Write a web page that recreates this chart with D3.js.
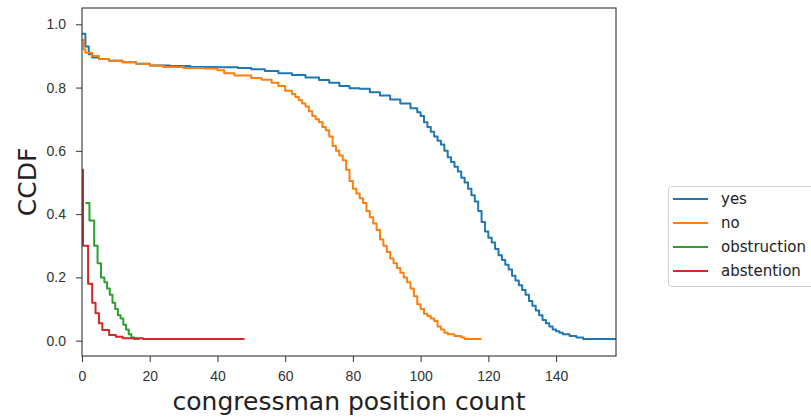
<!DOCTYPE html>
<html>
<head>
<meta charset="utf-8">
<script src="https://cdn.jsdelivr.net/npm/d3@7"></script>
<style>
  body { margin: 0; background: #fff; }
  svg { display: block; font-family: "DejaVu Sans", sans-serif; }
</style>
</head>
<body>
<div id="chart"></div>
<script>
// --------------------------------------
// Series (x = position count, y = CCDF)
const seriesNames = ["yes", "no", "obstruction", "abstention"];
const seriesColors = ["#1f77b4", "#ff7f0e", "#2ca02c", "#d62728"];

const yesX = [0, 1, 2, 3, 5, 8, 12, 16, 20, 26, 32, 40, 46, 50, 54, 58, 62, 66, 70, 73, 76, 79, 82, 85, 88, 91, 94, 97, 99,
  100, 101, 102, 103, 104, 105, 106, 107, 108, 109, 110, 111, 112, 113, 114, 115, 116, 117, 118, 119, 120,
  121, 122, 123, 124, 125, 126, 127, 128, 129, 130, 131, 132, 133, 134, 135, 136, 137, 138, 139, 140,
  141, 142, 144, 146, 148, 158];
const yesY = [0.97, 0.93, 0.905, 0.895, 0.89, 0.885, 0.88, 0.875, 0.87, 0.868, 0.865, 0.864, 0.862, 0.858, 0.852, 0.845, 0.84, 0.832, 0.824, 0.815, 0.805, 0.798, 0.796, 0.785, 0.775, 0.762, 0.75, 0.735, 0.722,
  0.71, 0.69, 0.675, 0.66, 0.645, 0.632, 0.62, 0.6, 0.58, 0.565, 0.55, 0.535, 0.515, 0.5, 0.48, 0.46, 0.44, 0.41, 0.375, 0.345, 0.325,
  0.31, 0.29, 0.27, 0.255, 0.24, 0.225, 0.205, 0.19, 0.175, 0.16, 0.145, 0.125, 0.11, 0.095, 0.08, 0.065, 0.055, 0.045, 0.035, 0.03,
  0.025, 0.02, 0.015, 0.01, 0.005, 0.003];

const noX = [0, 0.5, 1, 3, 5, 8, 12, 16, 20, 24, 30, 36, 40, 42, 45, 50, 53, 56, 58, 60, 62, 63, 64, 65, 66, 67, 68, 69, 70,
  71, 72, 73, 74, 75, 76, 77, 78, 79, 80, 81, 82, 83, 84, 85, 86, 87, 88, 89, 90, 91, 92, 93, 94, 95, 96, 97, 98, 99, 100,
  101, 102, 103, 104, 105, 106, 107, 108, 110, 112, 113, 118];
const noY = [0.95, 0.92, 0.91, 0.9, 0.89, 0.885, 0.88, 0.875, 0.87, 0.865, 0.862, 0.86, 0.855, 0.845, 0.838, 0.83, 0.825, 0.815, 0.805, 0.79, 0.78, 0.77, 0.76, 0.75, 0.74, 0.725, 0.71, 0.7, 0.69,
  0.675, 0.665, 0.645, 0.615, 0.6, 0.585, 0.57, 0.54, 0.505, 0.48, 0.465, 0.45, 0.435, 0.41, 0.39, 0.37, 0.35, 0.32, 0.3, 0.28, 0.26, 0.245, 0.23, 0.215, 0.2, 0.185, 0.165, 0.14, 0.115, 0.1,
  0.085, 0.078, 0.07, 0.062, 0.045, 0.035, 0.025, 0.02, 0.015, 0.01, 0.005, 0.005];

const obstructionX = [1, 2.2, 3.6, 4.6, 5.6, 6.6, 7.4, 8.2, 9, 9.8, 10.6, 11.4, 12.2, 13, 13.8, 14.6, 15.4, 17];
const obstructionY = [0.435, 0.38, 0.3, 0.245, 0.2, 0.185, 0.165, 0.145, 0.12, 0.1, 0.08, 0.07, 0.05, 0.035, 0.02, 0.01, 0.005, 0.005];

const abstentionX = [0, 0.3, 1.8, 3, 4, 5, 6, 8, 10, 12, 18, 48];
const abstentionY = [0.54, 0.3, 0.18, 0.12, 0.087, 0.055, 0.034, 0.018, 0.012, 0.008, 0.005, 0.005];

const xTicks = [0, 20, 40, 60, 80, 100, 120, 140];
const yTicks = [0.0, 0.2, 0.4, 0.6, 0.8, 1.0];
const xLabel = "congressman position count";
const yLabel = "CCDF";

// --------------------------------------
const width = 811, height = 419;
const plot = { left: 82, top: 8, right: 616, bottom: 356 };

const svg = d3.select("#chart").append("svg")
  .attr("width", width)
  .attr("height", height)
  .attr("viewBox", `0 0 ${width} ${height}`);

const x = d3.scaleLinear().domain([0, 157.7]).range([plot.left, plot.right]);
const y = d3.scaleLinear().domain([-0.0485, 1.0515]).range([plot.bottom, plot.top]);

const seriesData = [
  d3.zip(yesX, yesY),
  d3.zip(noX, noY),
  d3.zip(obstructionX, obstructionY),
  d3.zip(abstentionX, abstentionY)
];

// clip so lines stay inside the axes
svg.append("clipPath").attr("id", "clip")
  .append("rect")
  .attr("x", plot.left).attr("y", plot.top)
  .attr("width", plot.right - plot.left).attr("height", plot.bottom - plot.top);

const line = d3.line()
  .x(d => x(d[0]))
  .y(d => y(d[1]))
  .curve(d3.curveStepAfter);

svg.append("g").attr("clip-path", "url(#clip)")
  .selectAll("path")
  .data(seriesData)
  .join("path")
  .attr("d", line)
  .attr("fill", "none")
  .attr("stroke", (d, i) => seriesColors[i])
  .attr("stroke-width", 2)
  .attr("stroke-linejoin", "round");

// --------------------------------------
// Axes
const xAxis = svg.append("g")
  .attr("transform", `translate(0,${plot.bottom})`)
  .call(d3.axisBottom(x).tickValues(xTicks).tickFormat(d3.format("d")).tickSize(6).tickPadding(9));
const yAxis = svg.append("g")
  .attr("transform", `translate(${plot.left},0)`)
  .call(d3.axisLeft(y).tickValues(yTicks).tickFormat(d3.format(".1f")).tickSize(6).tickPadding(10));

[xAxis, yAxis].forEach(g => {
  g.select(".domain").remove();
  g.selectAll(".tick line").attr("stroke", "#333").attr("stroke-width", 1);
  g.selectAll(".tick text").attr("fill", "#333").style("font-size", "14px");
});

// spines
svg.append("rect")
  .attr("x", plot.left).attr("y", plot.top)
  .attr("width", plot.right - plot.left).attr("height", plot.bottom - plot.top)
  .attr("fill", "none")
  .attr("stroke", "#333")
  .attr("stroke-width", 1.1);

// axis labels
svg.append("text")
  .attr("x", (plot.left + plot.right) / 2)
  .attr("y", 410)
  .attr("text-anchor", "middle")
  .attr("fill", "#222")
  .style("font-size", "25px")
  .text(xLabel);

svg.append("text")
  .attr("transform", `translate(36,${(plot.top + plot.bottom) / 2}) rotate(-90)`)
  .attr("text-anchor", "middle")
  .attr("fill", "#222")
  .style("font-size", "25px")
  .text(yLabel);

// --------------------------------------
// Legend (cut off by the right edge, as in the source)
const legend = svg.append("g").attr("transform", "translate(668,186)");
legend.append("rect")
  .attr("x", 0.5).attr("y", 0.5)
  .attr("width", 160).attr("height", 100)
  .attr("rx", 3)
  .attr("fill", "#fff")
  .attr("stroke", "#d0d0d0");

const item = legend.selectAll("g.item")
  .data(seriesNames)
  .join("g")
  .attr("class", "item")
  .attr("transform", (d, i) => `translate(0,${13 + i * 24})`);
item.append("line")
  .attr("x1", 5).attr("x2", 40)
  .attr("stroke", (d, i) => seriesColors[i])
  .attr("stroke-width", 2);
item.append("text")
  .attr("x", 53)
  .attr("dy", "0.35em")
  .attr("fill", "#222")
  .style("font-size", "15px")
  .text(d => d);
</script>
</body>
</html>
